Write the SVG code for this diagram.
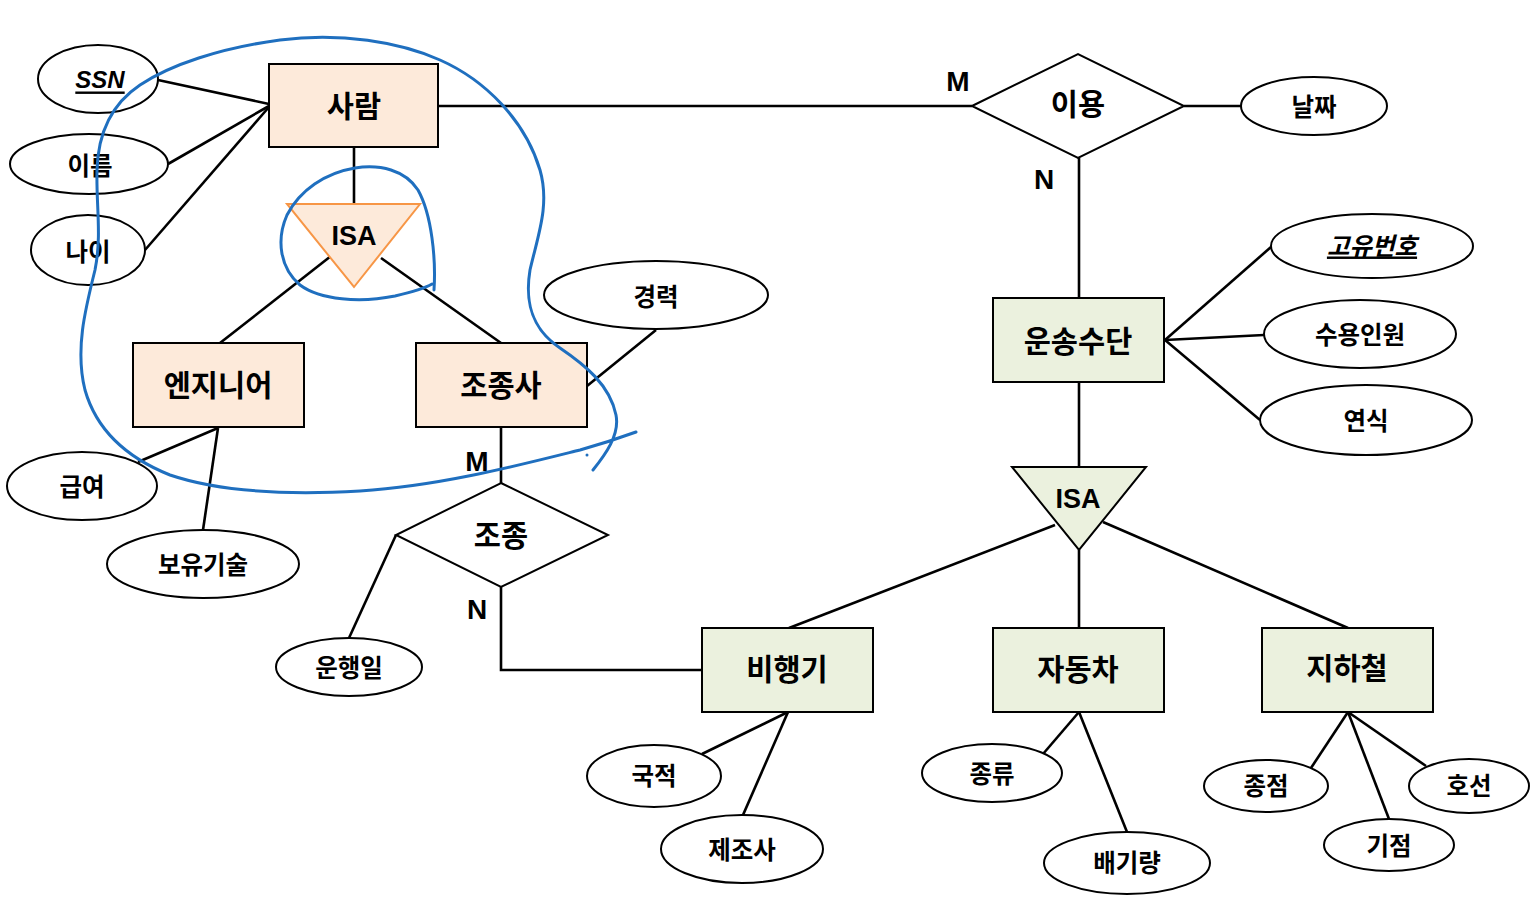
<svg xmlns="http://www.w3.org/2000/svg" width="1534" height="910" viewBox="0 0 1534 910">
<style>
.ent1{fill:#fdeada;stroke:#000;stroke-width:2}
.ent2{fill:#ebf1de;stroke:#000;stroke-width:2}
.attr{fill:#fff;stroke:#000;stroke-width:2}
.rel{fill:#fff;stroke:#000;stroke-width:2}
.ln{stroke:#000;stroke-width:2.6;fill:none}
.t{font-family:"Noto Sans CJK KR","Liberation Sans",sans-serif;font-weight:bold;text-anchor:middle;dominant-baseline:central;fill:#000}
.te{font-size:29.5px}
.ta{font-size:24.5px}
.card{font-family:"Liberation Sans",Arial,sans-serif;font-weight:bold;font-size:28px;text-anchor:middle;dominant-baseline:central}
.pen{fill:none;stroke:#1f6fbf;stroke-width:3;stroke-linecap:round;stroke-linejoin:round}
</style>
<rect width="1534" height="910" fill="#fff"/>
<g id="connectors">
<line class="ln" x1="158" y1="80" x2="269" y2="104"/>
<line class="ln" x1="168" y1="164" x2="269" y2="106"/>
<line class="ln" x1="145" y1="250" x2="269" y2="107"/>
<line class="ln" x1="354" y1="147" x2="354" y2="204"/>
<line class="ln" x1="331" y1="256" x2="220" y2="343"/>
<line class="ln" x1="381" y1="258" x2="501" y2="343"/>
<line class="ln" x1="656" y1="330" x2="587" y2="386"/>
<line class="ln" x1="218" y1="428" x2="138" y2="462"/>
<line class="ln" x1="218" y1="428" x2="203" y2="530"/>
<line class="ln" x1="501" y1="427" x2="501" y2="483"/>
<polyline class="ln" points="501,587 501,670 702,670"/>
<line class="ln" x1="396" y1="535" x2="349" y2="638"/>
<line class="ln" x1="438" y1="106" x2="972" y2="106"/>
<line class="ln" x1="1184" y1="106" x2="1241" y2="106"/>
<line class="ln" x1="1079" y1="158" x2="1079" y2="298"/>
<line class="ln" x1="1165" y1="340" x2="1271" y2="247"/>
<line class="ln" x1="1165" y1="340" x2="1264" y2="335"/>
<line class="ln" x1="1165" y1="340" x2="1260" y2="420"/>
<line class="ln" x1="1079" y1="382" x2="1079" y2="467"/>
<line class="ln" x1="1055" y1="525" x2="789" y2="628"/>
<line class="ln" x1="1079" y1="550" x2="1079" y2="628"/>
<line class="ln" x1="1103" y1="522" x2="1348" y2="628"/>
<line class="ln" x1="788" y1="712" x2="702" y2="754"/>
<line class="ln" x1="788" y1="712" x2="743" y2="815"/>
<line class="ln" x1="1079" y1="712" x2="1043" y2="754"/>
<line class="ln" x1="1079" y1="712" x2="1127" y2="832"/>
<line class="ln" x1="1348" y1="712" x2="1311" y2="768"/>
<line class="ln" x1="1348" y1="712" x2="1389" y2="819"/>
<line class="ln" x1="1348" y1="712" x2="1426" y2="766"/>
</g>
<g id="labels">
<text class="card" x="477" y="461">M</text>
<text class="card" x="477" y="609">N</text>
<text class="card" x="958" y="81">M</text>
<text class="card" x="1044" y="179">N</text>
</g>
<g id="saram"><rect class="ent1" x="269" y="64" width="169" height="83"/><text class="t te" x="354" y="104">사람</text></g>
<g id="ssn"><ellipse class="attr" cx="98" cy="79" rx="60" ry="34"/><text class="t" x="100" y="79" font-size="24" font-style="italic" text-decoration="underline" style="font-family:'Liberation Sans',sans-serif">SSN</text></g>
<g id="ireum"><ellipse class="attr" cx="89" cy="164" rx="79" ry="30"/><text class="t ta" x="90" y="164">이름</text></g>
<g id="nai"><ellipse class="attr" cx="88" cy="250" rx="57" ry="35"/><text class="t ta" x="88" y="250">나이</text></g>
<g id="isa1"><polygon points="287,204 420,204 354,287" fill="#fdeada" stroke="#f79646" stroke-width="2"/><text class="t" x="354" y="236" font-size="27" style="font-family:'Liberation Sans',sans-serif">ISA</text></g>
<g id="engineer"><rect class="ent1" x="133" y="343" width="171" height="84"/><text class="t te" x="218" y="383">엔지니어</text></g>
<g id="pilot"><rect class="ent1" x="416" y="343" width="171" height="84"/><text class="t te" x="501" y="383">조종사</text></g>
<g id="career"><ellipse class="attr" cx="656" cy="295" rx="112" ry="34"/><text class="t ta" x="656" y="295">경력</text></g>
<g id="salary"><ellipse class="attr" cx="82" cy="486" rx="75" ry="34"/><text class="t ta" x="82" y="485">급여</text></g>
<g id="skill"><ellipse class="attr" cx="203" cy="564" rx="96" ry="34"/><text class="t ta" x="203" y="563">보유기술</text></g>
<g id="jojong"><polygon class="rel" points="501,483 608,535 501,587 396,535"/><text class="t te" x="501" y="533">조종</text></g>
<g id="flightday"><ellipse class="attr" cx="349" cy="667" rx="73" ry="29"/><text class="t ta" x="349" y="666">운행일</text></g>
<g id="iyong"><polygon class="rel" points="972,106 1078,54 1184,106 1078,158"/><text class="t te" x="1078" y="102">이용</text></g>
<g id="date"><ellipse class="attr" cx="1314" cy="106" rx="73" ry="29"/><text class="t ta" x="1314" y="105">날짜</text></g>
<g id="vehicle"><rect class="ent2" x="993" y="298" width="171" height="84"/><text class="t te" x="1078" y="339">운송수단</text></g>
<g id="uid"><ellipse class="attr" cx="1372" cy="246" rx="101" ry="32"/><text class="t ta" x="1372" y="244" font-style="italic" text-decoration="underline">고유번호</text></g>
<g id="capacity"><ellipse class="attr" cx="1360" cy="334" rx="96" ry="34"/><text class="t ta" x="1360" y="333">수용인원</text></g>
<g id="year"><ellipse class="attr" cx="1366" cy="420" rx="106" ry="35"/><text class="t ta" x="1366" y="419">연식</text></g>
<g id="isa2"><polygon points="1012,467 1146,467 1079,550" fill="#ebf1de" stroke="#000" stroke-width="2"/><text class="t" x="1078" y="499" font-size="27" style="font-family:'Liberation Sans',sans-serif">ISA</text></g>
<g id="plane"><rect class="ent2" x="702" y="628" width="171" height="84"/><text class="t te" x="787" y="667">비행기</text></g>
<g id="car"><rect class="ent2" x="993" y="628" width="171" height="84"/><text class="t te" x="1078" y="667">자동차</text></g>
<g id="subway"><rect class="ent2" x="1262" y="628" width="171" height="84"/><text class="t te" x="1347" y="666">지하철</text></g>
<g id="nation"><ellipse class="attr" cx="654" cy="776" rx="67" ry="31"/><text class="t ta" x="654" y="774">국적</text></g>
<g id="maker"><ellipse class="attr" cx="742" cy="849" rx="81" ry="34"/><text class="t ta" x="742" y="848">제조사</text></g>
<g id="kind"><ellipse class="attr" cx="992" cy="773" rx="70" ry="29"/><text class="t ta" x="992" y="772">종류</text></g>
<g id="displacement"><ellipse class="attr" cx="1127" cy="863" rx="83" ry="31"/><text class="t ta" x="1127" y="861">배기량</text></g>
<g id="terminal"><ellipse class="attr" cx="1266" cy="786" rx="62" ry="26"/><text class="t ta" x="1266" y="784">종점</text></g>
<g id="origin"><ellipse class="attr" cx="1389" cy="845" rx="65" ry="26"/><text class="t ta" x="1389" y="844">기점</text></g>
<g id="line"><ellipse class="attr" cx="1469" cy="786" rx="60" ry="27"/><text class="t ta" x="1469" y="784">호선</text></g>
<g id="annotations">
<path class="pen" d="M593,470 C605,455 620,435 616,415 C610,385 585,365 560,348 C530,328 525,300 530,270 C538,235 550,205 540,170 C525,120 485,80 440,60 C400,42 340,32 280,40 C220,48 170,65 140,85 C110,105 98,135 97,170 C96,205 102,235 95,270 C85,310 75,350 85,390 C95,425 120,455 170,475 C220,492 290,495 360,491 C440,486 520,465 580,450 C605,443 625,436 636,432"/>
<path class="pen" d="M434,290 C436,260 432,215 418,190 C405,170 380,164 355,168 C325,173 300,190 287,215 C276,240 280,268 300,285 C320,300 360,303 395,296 C412,292 425,288 432,284"/>
<circle cx="587" cy="455" r="1.5" fill="#1f6fbf"/>
</g>
</svg>
